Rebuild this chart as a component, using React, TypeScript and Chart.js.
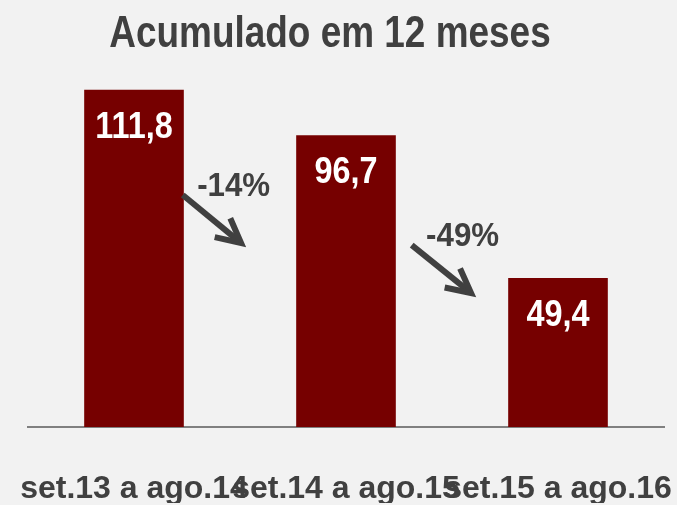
import React, { useEffect, useRef } from "react";
import { Chart, registerables } from "chart.js";

Chart.register(...registerables);

const title = "Acumulado em 12 meses";
const categories = ["set.13 a ago.14", "set.14 a ago.15", "set.15 a ago.16"];
const values = [111.8, 96.7, 49.4];
const valueLabels = ["111,8", "96,7", "49,4"];
const yMax = 120;

// change annotations (positions in category index / value units)
const changeLabels = ["-14%", "-49%"];
const changeLabelX = [0.47, 1.55];
const changeLabelY = [76.6, 60.0];
const arrowStartX = [0.23, 1.31];
const arrowStartY = [76.9, 60.3];
const arrowEndX = [0.505, 1.59];
const arrowEndY = [61.0, 44.4];

const BG = "#f2f2f2";
const BAR = "#760000";
const TEXT = "#404040";
const FONT = "'Liberation Sans', Arial, sans-serif";

function drawText(ctx: any, text: string, x: number, y: number, sx: number) {
  ctx.save();
  ctx.translate(x, y);
  ctx.scale(sx, 1);
  ctx.fillText(text, 0, 0);
  ctx.restore();
}

const annotationPlugin = {
  id: "annotations",
  afterDatasetsDraw(chart: any) {
    const ctx = chart.ctx;
    const xs = chart.scales.x;
    const ys = chart.scales.y;
    ctx.save();
    ctx.textAlign = "center";
    ctx.textBaseline = "alphabetic";
    // title
    ctx.fillStyle = TEXT;
    ctx.font = `bold 44.5px ${FONT}`;
    drawText(ctx, title, 330, 47, 0.83);

    // value labels
    const meta = chart.getDatasetMeta(0);
    ctx.fillStyle = "#ffffff";
    ctx.font = `bold 36px ${FONT}`;
    meta.data.forEach((bar: any, i: number) => {
      drawText(ctx, valueLabels[i], bar.x, bar.y + 48, 0.9);
    });

    // arrows
    ctx.strokeStyle = TEXT;
    ctx.lineWidth = 6;
    ctx.lineCap = "butt";
    ctx.lineJoin = "miter";
    for (let i = 0; i < changeLabels.length; i++) {
      const x1 = xs.getPixelForValue(arrowStartX[i]);
      const y1 = ys.getPixelForValue(arrowStartY[i]);
      const x2 = xs.getPixelForValue(arrowEndX[i]);
      const y2 = ys.getPixelForValue(arrowEndY[i]);
      const ang = Math.atan2(y2 - y1, x2 - x1);
      const head = 27;
      const spread = (27 * Math.PI) / 180;
      ctx.beginPath();
      ctx.moveTo(x1, y1);
      ctx.lineTo(x2 - Math.cos(ang) * 3, y2 - Math.sin(ang) * 3);
      ctx.stroke();
      ctx.beginPath();
      ctx.moveTo(x2 - Math.cos(ang - spread) * head, y2 - Math.sin(ang - spread) * head);
      ctx.lineTo(x2, y2);
      ctx.lineTo(x2 - Math.cos(ang + spread) * head, y2 - Math.sin(ang + spread) * head);
      ctx.stroke();

      ctx.fillStyle = TEXT;
      ctx.font = `bold 34px ${FONT}`;
      drawText(
        ctx,
        changeLabels[i],
        xs.getPixelForValue(changeLabelX[i]),
        ys.getPixelForValue(changeLabelY[i]),
        0.92
      );
    }
    ctx.restore();
  },
};

export default function App() {
  const ref = useRef<HTMLCanvasElement | null>(null);
  useEffect(() => {
    document.body.style.margin = "0";
    document.body.style.background = BG;
    if (!ref.current) return;
    const chart = new Chart(ref.current, {
      type: "bar",
      data: {
        labels: categories,
        datasets: [
          {
            data: values,
            backgroundColor: BAR,
            borderWidth: 0,
            barPercentage: 0.47,
            categoryPercentage: 1,
          },
        ],
      },
      options: {
        responsive: false,
        animation: false,
        layout: { padding: { top: 65, left: 28, right: 13, bottom: 2 } },
        plugins: {
          legend: { display: false },
          title: { display: false },
          tooltip: { enabled: false },
        },
        scales: {
          x: {
            grid: { display: false, drawTicks: false },
            border: { display: true, color: "#808080", width: 2 },
            afterFit: (scale: any) => {
              scale.height = 76;
              scale.paddingLeft = 0;
              scale.paddingRight = 0;
            },
            ticks: {
              autoSkip: false,
              maxRotation: 0,
              minRotation: 0,
              padding: 46,
              color: TEXT,
              font: { family: FONT, size: 32, weight: "bold", lineHeight: 1 },
            },
          },
          y: {
            display: false,
            min: 0,
            max: yMax,
          },
        },
      },
      plugins: [annotationPlugin],
    });
    return () => chart.destroy();
  }, []);
  return (
    <div style={{ width: 677, height: 505, background: BG }}>
      <canvas ref={ref} width={677} height={505} />
    </div>
  );
}
